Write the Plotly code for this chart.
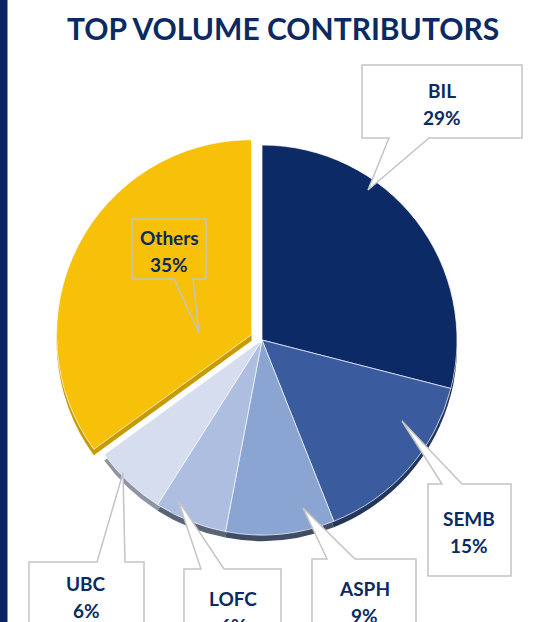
import plotly.graph_objects as go

# ---- data ----
labels = ["BIL", "SEMB", "ASPH", "LOFC", "UBC", "Others"]
values = [29, 15, 9, 6, 6, 35]
title_text = "TOP VOLUME CONTRIBUTORS"

# ---- styles ----
colors = ["#0C2A66", "#3A5C9F", "#8BA5D3", "#ADBEE0", "#D5DDEE", "#F7C009"]
rim_colors = ["#07183B", "#22365E", "#3F4C66", "#5A6478", "#8D94A3", "#C99A00"]
pulls = [0, 0, 0, 0, 0, 0.06]
NAVY = "#0B2A62"

W, H = 555, 622
def px(x):
    return x / W
def py(y):
    return 1 - y / H

# pie geometry (pixels)
cx, cy, r = 262, 340, 195
half = r * (1 + max(pulls))

def dom(dy=0):
    return dict(x=[px(cx - half), px(cx + half)],
                y=[py(cy + dy + half), py(cy + dy - half)])

fig = go.Figure()
# 3D rim (shadow pie slightly lower)
fig.add_trace(go.Pie(labels=labels, values=values, sort=False, direction="clockwise",
                     rotation=0, pull=pulls, textinfo="none", hoverinfo="skip",
                     marker=dict(colors=rim_colors, line=dict(width=0)),
                     domain=dom(6), showlegend=False))
fig.add_trace(go.Pie(labels=labels, values=values, sort=False, direction="clockwise",
                     rotation=0, pull=pulls, textinfo="none",
                     marker=dict(colors=colors, line=dict(color="rgba(255,255,255,0.7)", width=1)),
                     domain=dom(0), showlegend=False))

# callout boxes: (x0, x1, y0, y1, base_a, base_b, tip, pointer_on_top, text_x, text_y1, fill)
boxes = {
    "BIL":    (362, 522, 65, 138, 389, 429, (368, 190), False, 442, 90, "white"),
    "Others": (132, 206, 219, 279, 174, 193, (199, 333), False, 169, 237, "rgba(0,0,0,0)"),
    "SEMB":   (428, 511, 484, 576, 442, 462, (402, 421), True, 469, 518, "white"),
    "ASPH":   (312, 416, 559, 660, 327, 355, (303, 508), True, 364, 588, "white"),
    "LOFC":   (184, 281, 569, 660, 201, 224, (178, 500), True, 233, 598, "white"),
    "UBC":    (29, 144, 562, 660, 97, 125, (123, 473), True, 86, 583, "white"),
}

shapes = []
annotations = []
for lab, val in zip(labels, values):
    x0, x1, y0, y1, ba, bb, tip, top, tx, ty, fill = boxes[lab]
    if top:
        pts = [(x0, y0), (ba, y0), tip, (bb, y0), (x1, y0), (x1, y1), (x0, y1)]
    else:
        pts = [(x0, y0), (x1, y0), (x1, y1), (bb, y1), tip, (ba, y1), (x0, y1)]
    path = "M " + " L ".join(f"{px(a):.5f},{py(b):.5f}" for a, b in pts) + " Z"
    shapes.append(dict(type="path", path=path, xref="paper", yref="paper",
                       line=dict(color="#C4C4C4", width=1.5), fillcolor=fill, layer="above"))
    for i, t in enumerate([lab, f"{val}%"]):
        annotations.append(dict(text=f"<b>{t}</b>", x=px(tx), y=py(ty + i * 27),
                                xref="paper", yref="paper", showarrow=False,
                                xanchor="center", yanchor="middle",
                                font=dict(family="Lato, sans-serif", size=19, color=NAVY)))

# left panel border
shapes.append(dict(type="rect", xref="paper", yref="paper", x0=0, x1=px(7.5), y0=0, y1=1,
                   fillcolor="#0B2360", line=dict(width=0), layer="above"))

annotations.append(dict(text=f"<b>{title_text}</b>", x=px(283), y=py(28), xref="paper", yref="paper",
                        showarrow=False, xanchor="center", yanchor="middle",
                        font=dict(family="Lato, sans-serif", size=30, color=NAVY)))

fig.update_layout(width=W, height=H, margin=dict(l=0, r=0, t=0, b=0),
                  paper_bgcolor="white", plot_bgcolor="white",
                  shapes=shapes, annotations=annotations, showlegend=False)

fig.write_html("out.html", config={"displayModeBar": False},
               post_script="document.body.style.margin='0';document.body.style.overflow='hidden';")
